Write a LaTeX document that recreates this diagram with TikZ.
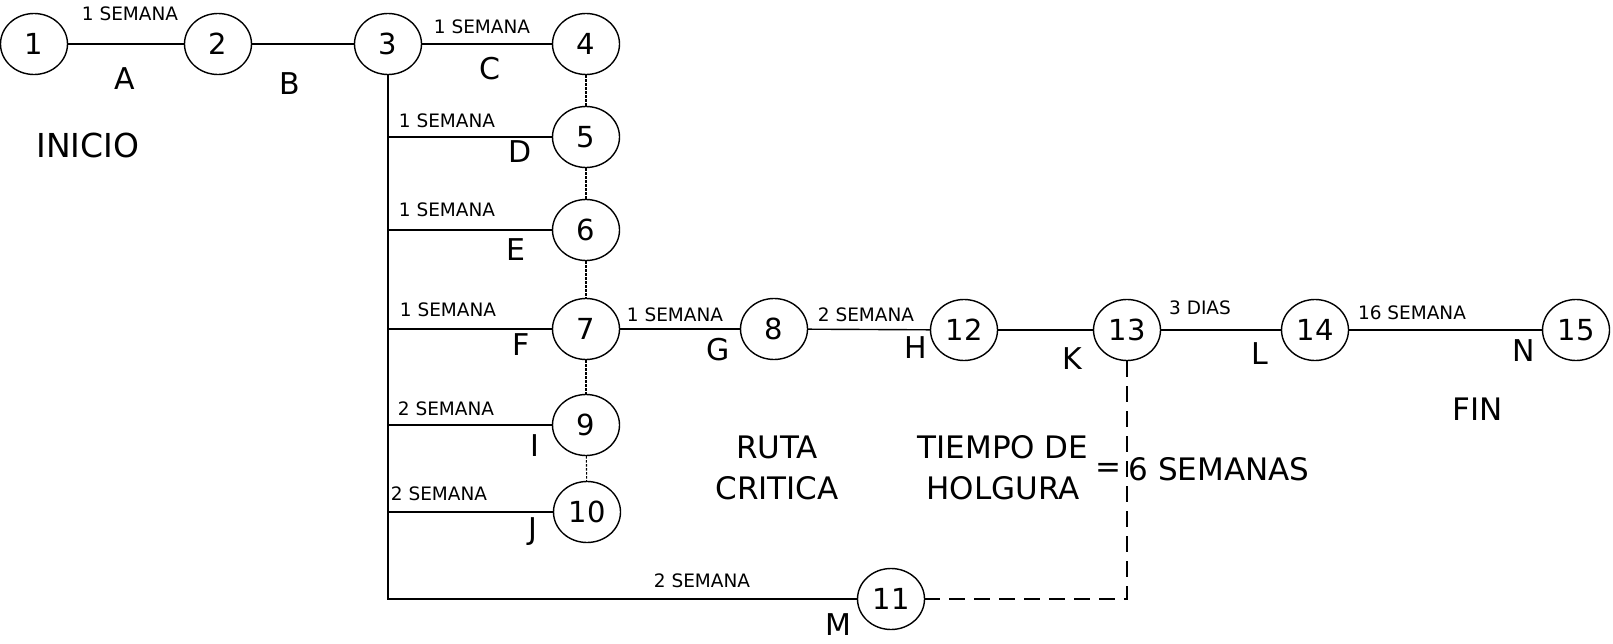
\documentclass[tikz,border=0pt]{standalone}
\usepackage{fontspec}
\setmainfont{DejaVu Sans}
\usetikzlibrary{shapes.geometric}

\begin{document}
\begin{tikzpicture}[x=1pt,y=-1pt,line width=1.4pt,
	evento/.style={shape=ellipse,draw=black,minimum width=67pt,minimum height=61pt,inner sep=0pt,font=\fontsize{29}{30}\selectfont},
	tiempo/.style={font=\fontsize{18.5}{20}\selectfont},
	letra/.style={font=\fontsize{30}{32}\selectfont},
	nota/.style={font=\fontsize{31}{41}\selectfont,align=center},
	ficticia/.style={line width=1.1pt,dash pattern=on 2.5pt off 1.5pt},
	holgura/.style={line width=1.4pt,dash pattern=on 16pt off 9pt}]
	\useasboundingbox (0,0) rectangle (1613,644);

	\node[evento] (n1)  at (34, 44)   {1};
	\node[evento] (n2)  at (218, 44)  {2};
	\node[evento] (n3)  at (388, 44)  {3};
	\node[evento] (n4)  at (586, 44)  {4};
	\node[evento] (n5)  at (586, 137) {5};
	\node[evento] (n6)  at (586, 230) {6};
	\node[evento] (n7)  at (586, 329) {7};
	\node[evento] (n8)  at (774, 329) {8};
	\node[evento] (n9)  at (586, 425) {9};
	\node[evento] (n10) at (587, 512) {10};
	\node[evento] (n11) at (891, 599) {11};
	\node[evento] (n12) at (964, 330) {12};
	\node[evento] (n13) at (1127, 330) {13};
	\node[evento] (n14) at (1315, 330) {14};
	\node[evento] (n15) at (1576, 330) {15};

	\draw (n1) -- (n2);
	\draw (n2) -- (n3);
	\draw (n3) -- (n4);
	\draw (n3) |- (n11);
	\draw (n3 |- n5) -- (n5);
	\draw (n3 |- n6) -- (n6);
	\draw (n3 |- n7) -- (n7);
	\draw (n3 |- n9) -- (n9);
	\draw (n3 |- n10) -- (n10);
	\draw (n7) -- (n8);
	\draw (n8) -- (n12);
	\draw (n12) -- (n13);
	\draw (n13) -- (n14);
	\draw (n14) -- (n15);

	\draw[ficticia] (n4) -- (n5);
	\draw[ficticia] (n5) -- (n6);
	\draw[ficticia] (n6) -- (n7);
	\draw[ficticia] (n7) -- (n9);
	\draw[ficticia] (n9) -- (n10);
	\draw[holgura] (n13) |- (n11);

	% duraciones
	\node[tiempo] (tA) at (130, 14)  {1 SEMANA};
	\node[tiempo] (tC) at (482, 27)  {1 SEMANA};
	\node[tiempo] (tD) at (447, 121) {1 SEMANA};
	\node[tiempo] (tE) at (447, 210) {1 SEMANA};
	\node[tiempo] (tF) at (448, 310) {1 SEMANA};
	\node[tiempo] (tG) at (675, 315) {1 SEMANA};
	\node[tiempo] (tH) at (866, 315) {2 SEMANA};
	\node[tiempo] (tI) at (446, 409) {2 SEMANA};
	\node[tiempo] (tJ) at (439, 494) {2 SEMANA};
	\node[tiempo] (tM) at (702, 581) {2 SEMANA};
	\node[tiempo] (tL) at (1200, 308) {3 DIAS};
	\node[tiempo] (tN) at (1412, 313) {16 SEMANA};

	% actividades
	\node[letra] (A) at (125, 79)  {A};
	\node[letra] (B) at (290, 84)  {B};
	\node[letra] (C) at (490, 69)  {C};
	\node[letra] (D) at (520, 152) {D};
	\node[letra] (E) at (516, 250) {E};
	\node[letra] (F) at (521, 345) {F};
	\node[letra] (G) at (718, 350) {G};
	\node[letra] (H) at (916, 348) {H};
	\node[letra] (I) at (535, 446) {I};
	\node[letra] (J) at (533, 532) {J};
	\node[letra] (K) at (1072, 359) {K};
	\node[letra] (L) at (1260, 354) {L};
	\node[letra] (M) at (838, 625) {M};
	\node[letra] (N) at (1524, 351) {N};

	\node[nota,font=\fontsize{33}{40}\selectfont] (inicio) at (88, 145) {INICIO};
	\node[nota] (fin) at (1478, 409) {FIN};
	\node[nota] (ruta) at (777, 468) {RUTA\\CRITICA};
	\node[nota] (tiempo) at (1003, 468) {TIEMPO DE\\HOLGURA};
	\node[nota] (igual) at (1108, 470) {=};
	\node[nota] (seis) at (1219, 469) {6 SEMANAS};
\end{tikzpicture}
\end{document}
